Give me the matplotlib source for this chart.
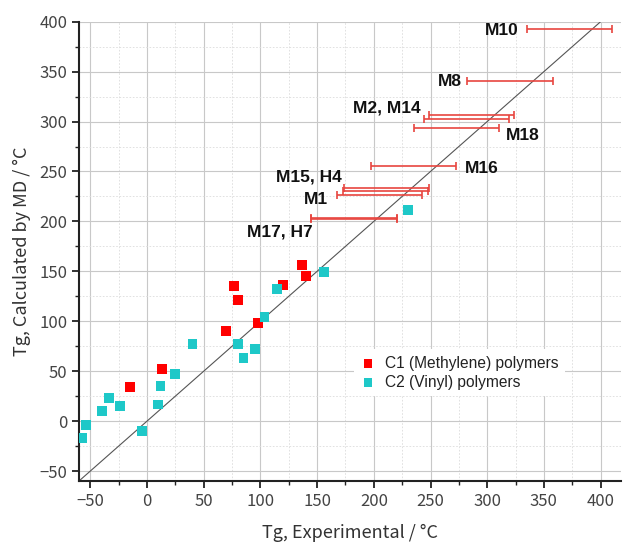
import matplotlib
matplotlib.use("Agg")
import matplotlib.pyplot as plt
from matplotlib.ticker import MultipleLocator

# C1 (Methylene) polymers
c1_x = [136.8, 140.0, 119.7, 76.7, 79.9, 97.6, 69.5, 12.9, -14.9]
c1_y = [156.3, 145.3, 136.3, 135.3, 121.0, 98.0, 90.3, 52.0, 34.3]

# C2 (Vinyl) polymers
c2_x = [230.0, 155.8, 114.7, 103.6, 40.1, 79.9, 95.1, 85.0, 24.9, 11.9, 9.7,
        -33.9, -39.9, -23.8, -4.8, -53.8, -57.3]
c2_y = [211.7, 149.3, 132.3, 104.0, 77.0, 77.0, 72.0, 63.0, 47.0, 35.0, 16.7,
        23.0, 10.0, 15.0, -10.3, -3.7, -17.3]

# Horizontal range bars (experimental range) for selected polymers
bar_names = ["M10", "M8", "M2", "M14", "M18", "M16", "M15", "H4", "M1", "M17", "H7"]
bar_x = [372.5, 320.0, 286.5, 282.0, 273.0, 235.0, 211.5, 210.0, 205.0, 182.5, 182.5]
bar_xerr = [37.5, 37.8, 37.5, 37.3, 37.3, 37.6, 37.5, 37.5, 37.8, 37.8, 37.8]
bar_y = [393.0, 341.0, 307.0, 302.7, 293.7, 255.0, 233.0, 230.7, 226.5, 203.0, 202.5]

# Group labels
label_text = ["M10", "M8", "M2, M14", "M18", "M16", "M15, H4", "M1", "M17, H7"]
label_x = [327.7, 277.7, 241.7, 316.6, 280.3, 172.0, 159.2, 145.6]
label_y = [391.0, 340.5, 313.3, 285.7, 253.0, 244.5, 221.7, 189.7]
label_ha = ["right", "right", "right", "left", "left", "right", "right", "right"]

x_ticks = [-50, 0, 50, 100, 150, 200, 250, 300, 350, 400]
y_ticks = [-50, 0, 50, 100, 150, 200, 250, 300, 350, 400]

tick_font = ["Noto Sans CJK JP", "DejaVu Sans"]

fig = plt.figure(figsize=(6.24, 5.45), dpi=100)
ax = fig.add_axes([0.1266, 0.1174, 0.8686, 0.8428])
ax.set_xlim(-60, 418)
ax.set_ylim(-60, 400)

ax.xaxis.set_major_locator(MultipleLocator(50))
ax.yaxis.set_major_locator(MultipleLocator(50))
ax.xaxis.set_minor_locator(MultipleLocator(25))
ax.yaxis.set_minor_locator(MultipleLocator(25))
ax.set_xticks(x_ticks)
ax.set_yticks(y_ticks)

ax.grid(which="major", color="#c8c8c8", lw=0.8, zorder=0)
ax.grid(which="minor", color="#dcdcdc", lw=0.6, ls=(0, (2, 2)), zorder=0)
ax.set_axisbelow(True)

for s in ["top", "right"]:
    ax.spines[s].set_visible(False)
for s in ["left", "bottom"]:
    ax.spines[s].set_linewidth(1.5)
    ax.spines[s].set_color("#222222")

ax.tick_params(which="major", direction="out", length=5, width=1.3, color="#222222",
               labelsize=12, labelcolor="#444444")
ax.tick_params(which="minor", direction="out", length=3, width=1.0, color="#222222")
for lab in ax.get_xticklabels() + ax.get_yticklabels():
    lab.set_family(tick_font)

# diagonal y = x
ax.plot([-60, 400], [-60, 400], color="#555555", lw=0.8, zorder=2)

ax.errorbar(bar_x, bar_y, xerr=bar_xerr, fmt="none", ecolor="#e8453f",
            elinewidth=1.2, capsize=3, capthick=1.2, zorder=3)

ax.scatter(c1_x, c1_y, marker="s", s=50, color="#ff0000", edgecolors="none",
           zorder=4, label="C1 (Methylene) polymers")
ax.scatter(c2_x, c2_y, marker="s", s=50, color="#1ec8c8", edgecolors="none",
           zorder=4, label="C2 (Vinyl) polymers")

for t, x, y, ha in zip(label_text, label_x, label_y, label_ha):
    ax.text(x, y, t, ha=ha, va="center", fontsize=12.5, fontweight="bold",
            family=["Liberation Sans", "DejaVu Sans"], color="#111111", zorder=5)

leg = ax.legend(loc="center left", bbox_to_anchor=(0.493, 0.236), frameon=True,
                fancybox=False, edgecolor="none", facecolor="white", framealpha=1,
                prop={"family": "Liberation Sans", "size": 11.2},
                handletextpad=0.6, handlelength=1.0, borderpad=0.4,
                labelspacing=0.25, markerscale=0.9)
leg.set_zorder(6)
for txt in leg.get_texts():
    txt.set_color("#222222")

ax.set_xlabel("Tg, Experimental / °C", fontsize=13, color="#333333",
              family=tick_font, labelpad=10)
ax.set_ylabel("Tg, Calculated by MD / °C", fontsize=13, color="#333333",
              family=tick_font, labelpad=6)

fig.savefig("out.png", dpi=100)
